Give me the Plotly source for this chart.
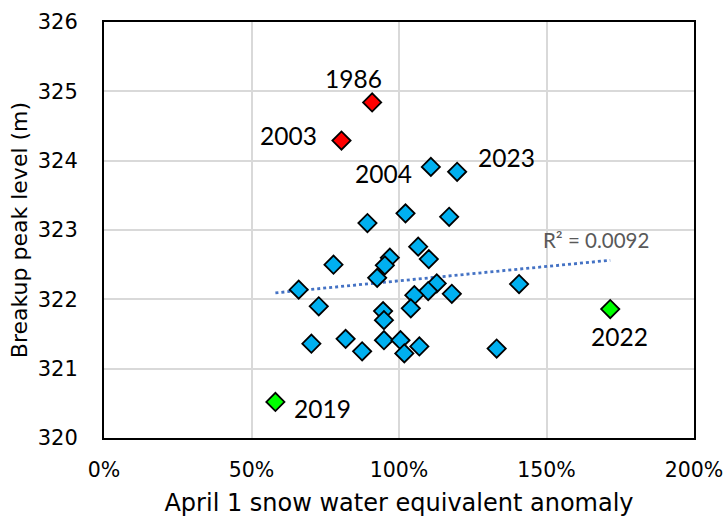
import numpy as np
import plotly.graph_objects as go

# Blue (other years) points
swe_blue = [110.8, 119.7, 102.2, 117.0, 89.3, 106.5, 110.1, 96.9, 95.2, 77.8, 92.6, 66.0,
            112.8, 109.9, 105.2, 117.9, 72.8, 104.0, 94.6, 94.9, 70.3, 81.9, 87.5, 94.9,
            100.5, 101.8, 106.9, 133.1, 140.7]
lvl_blue = [323.91, 323.84, 323.24, 323.19, 323.10, 322.76, 322.58, 322.60, 322.49, 322.50,
            322.31, 322.14, 322.23, 322.12, 322.06, 322.08, 321.90, 321.87, 321.83, 321.70,
            321.36, 321.43, 321.25, 321.41, 321.41, 321.22, 321.32, 321.29, 322.22]
# Red highlight years
years_red = ["1986", "2003"]
swe_red = [90.9, 80.5]
lvl_red = [324.84, 324.29]
# Green highlight years
years_green = ["2022", "2019"]
swe_green = [171.6, 58.1]
lvl_green = [321.86, 320.52]

# Labels
label_text = ["1986", "2003", "2004", "2023", "2022", "2019"]
label_x = [84.7, 62.4, 94.6, 136.3, 174.6, 74.1]
label_y = [325.18, 324.36, 323.81, 324.04, 321.46, 320.42]

x_ticks = [0, 50, 100, 150, 200]
x_tick_labels = ["0%", "50%", "100%", "150%", "200%"]
y_ticks = [320, 321, 322, 323, 324, 325, 326]

all_x = np.array(swe_blue + swe_red + swe_green)
all_y = np.array(lvl_blue + lvl_red + lvl_green)
slope, intercept = np.polyfit(all_x, all_y, 1)
tx = np.array([all_x.min(), all_x.max()])
ty = slope * tx + intercept

mk_line = dict(color="black", width=1.8)
msize = 14
fig = go.Figure()
fig.add_trace(go.Scatter(x=tx, y=ty, mode="lines",
                         line=dict(color="#4472C4", width=2.8, dash="dot"), showlegend=False))
fig.add_trace(go.Scatter(x=swe_blue, y=lvl_blue, mode="markers",
                         marker=dict(symbol="diamond", size=msize, color="#00B0F0", line=mk_line),
                         showlegend=False))
fig.add_trace(go.Scatter(x=swe_red, y=lvl_red, mode="markers",
                         marker=dict(symbol="diamond", size=msize, color="#FF0000", line=mk_line),
                         showlegend=False))
fig.add_trace(go.Scatter(x=swe_green, y=lvl_green, mode="markers",
                         marker=dict(symbol="diamond", size=msize, color="#00FF00", line=mk_line),
                         showlegend=False))

for t, x, y in zip(label_text, label_x, label_y):
    fig.add_annotation(x=x, y=y, text=t, showarrow=False,
                       font=dict(family="Lato", size=24.5, color="black"))
fig.add_annotation(x=166.8, y=322.85, text="R² = 0.0092", showarrow=False,
                   font=dict(family="Lato", size=20.5, color="#595959"))

fig.update_layout(
    width=724, height=523,
    margin=dict(l=104, r=30, t=22, b=85, autoexpand=False),
    paper_bgcolor="white", plot_bgcolor="white",
    font=dict(family="DejaVu Sans", size=21, color="black"),
)
fig.update_xaxes(range=[0, 200], tickvals=x_ticks, ticktext=x_tick_labels,
                 showgrid=True, gridcolor="#D9D9D9", gridwidth=2,
                 showline=True, linecolor="black", linewidth=2, mirror=True,
                 zeroline=False, ticks="", ticklabelstandoff=12,
                 ticklabeloverflow="allow", automargin=False,
                 tickfont=dict(size=20.5),
                 title=dict(text="April 1 snow water equivalent anomaly", standoff=14,
                            font=dict(size=24)))
fig.update_yaxes(range=[320, 326], tickvals=y_ticks,
                 showgrid=True, gridcolor="#D9D9D9", gridwidth=2,
                 showline=True, linecolor="black", linewidth=2, mirror=True,
                 zeroline=False, ticks="", ticklabelstandoff=20, automargin=False,
                 tickfont=dict(size=21),
                 title=dict(text="Breakup peak level (m)", standoff=4, font=dict(size=22)))

fig.write_html("out.html")
